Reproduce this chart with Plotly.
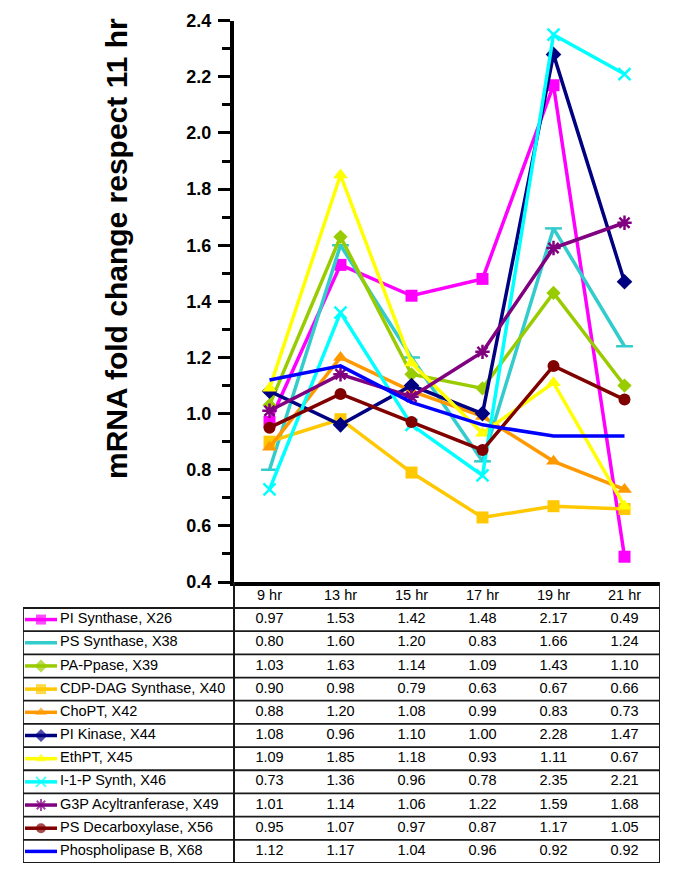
import plotly.graph_objects as go

# ---------------- data ----------------
categories = ["9 hr", "13 hr", "15 hr", "17 hr", "19 hr", "21 hr"]

series_names = [
    "PI Synthase, X26",
    "PS Synthase, X38",
    "PA-Ppase, X39",
    "CDP-DAG Synthase, X40",
    "ChoPT, X42",
    "PI Kinase, X44",
    "EthPT, X45",
    "I-1-P Synth, X46",
    "G3P Acyltranferase, X49",
    "PS Decarboxylase, X56",
    "Phospholipase B, X68",
]

pi_synthase = [0.97, 1.53, 1.42, 1.48, 2.17, 0.49]
ps_synthase = [0.80, 1.60, 1.20, 0.83, 1.66, 1.24]
pa_ppase = [1.03, 1.63, 1.14, 1.09, 1.43, 1.10]
cdp_dag_synthase = [0.90, 0.98, 0.79, 0.63, 0.67, 0.66]
chopt = [0.88, 1.20, 1.08, 0.99, 0.83, 0.73]
pi_kinase = [1.08, 0.96, 1.10, 1.00, 2.28, 1.47]
ethpt = [1.09, 1.85, 1.18, 0.93, 1.11, 0.67]
i1p_synth = [0.73, 1.36, 0.96, 0.78, 2.35, 2.21]
g3p_acyltransferase = [1.01, 1.14, 1.06, 1.22, 1.59, 1.68]
ps_decarboxylase = [0.95, 1.07, 0.97, 0.87, 1.17, 1.05]
phospholipase_b = [1.12, 1.17, 1.04, 0.96, 0.92, 0.92]

series_values = [pi_synthase, ps_synthase, pa_ppase, cdp_dag_synthase, chopt,
                 pi_kinase, ethpt, i1p_synth, g3p_acyltransferase,
                 ps_decarboxylase, phospholipase_b]

y_title = "mRNA fold change respect 11 hr"

# ---------------- styles ----------------
styles = [
    dict(color="#FF00FF", symbol="square", size=12),
    dict(color="#33CCCC", symbol="line-ew", size=12),
    dict(color="#99CC00", symbol="diamond", size=11),
    dict(color="#FFC800", symbol="square", size=12),
    dict(color="#FF9900", symbol="triangle-up", size=13),
    dict(color="#000080", symbol="diamond", size=12),
    dict(color="#FFFF00", symbol="triangle-up", size=13),
    dict(color="#00FFFF", symbol="x-thin", size=12),
    dict(color="#800080", symbol="asterisk", size=12),
    dict(color="#800000", symbol="circle", size=12),
    dict(color="#0000FF", symbol=None, size=0),
]

FONT = "Liberation Sans, Arial, Helvetica, sans-serif"
W, H = 685, 883

# layout positions in pixels
PLOT_L, PLOT_R, PLOT_T, PLOT_B = 234, 660, 20.7, 582
TABLE_L, TABLE_B = 23, 863
HEADER_H, ROW_H = 26, 23.2

n_cat = len(categories)
px_per_unit = (PLOT_R - PLOT_L) / n_cat
x2_left = -0.5 - (PLOT_L - TABLE_L) / px_per_unit
n_rows = len(series_names)
y2_top = -0.5 - HEADER_H / ROW_H


def px_to_x2(px):
    return x2_left + (px - TABLE_L) / px_per_unit


fig = go.Figure()

x_idx = list(range(n_cat))

# ---------------- chart traces ----------------
for name, vals, st in zip(series_names, series_values, styles):
    if st["symbol"] is None:
        mode = "lines"
        marker = None
    else:
        mode = "lines+markers"
        if st["symbol"] in ("line-ew", "x-thin", "asterisk"):
            marker = dict(symbol=st["symbol"], size=st["size"],
                          color=st["color"],
                          line=dict(color=st["color"], width=2.5))
        else:
            marker = dict(symbol=st["symbol"], size=st["size"],
                          color=st["color"], line=dict(width=0))
    fig.add_trace(go.Scatter(
        x=x_idx, y=vals, mode=mode, name=name,
        line=dict(color=st["color"], width=3.5),
        marker=marker, showlegend=False, xaxis="x", yaxis="y",
        cliponaxis=False,
    ))

# ---------------- data table ----------------
# legend keys
key_x = [px_to_x2(25), px_to_x2(41), px_to_x2(57)]
for i, (name, st) in enumerate(zip(series_names, styles)):
    show_marker = st["symbol"] is not None and st["symbol"] != "line-ew"
    if show_marker:
        if st["symbol"] in ("x-thin", "asterisk"):
            mk = dict(symbol=st["symbol"], size=[0, 10, 0], color=st["color"],
                      line=dict(color=st["color"], width=2))
        else:
            mk = dict(symbol=st["symbol"], size=[0, 10, 0], color=st["color"],
                      line=dict(width=0))
        mode = "lines+markers"
    else:
        mk = None
        mode = "lines"
    fig.add_trace(go.Scatter(
        x=key_x, y=[i, i, i], mode=mode,
        line=dict(color=st["color"], width=3.5), marker=mk,
        showlegend=False, xaxis="x2", yaxis="y2", hoverinfo="skip",
    ))

TFONT = dict(family=FONT, size=14.5, color="#000000")

# row labels
fig.add_trace(go.Scatter(
    x=[px_to_x2(60)] * n_rows, y=list(range(n_rows)), mode="text",
    text=series_names, textposition="middle right", textfont=TFONT,
    showlegend=False, xaxis="x2", yaxis="y2", hoverinfo="skip",
))

# header
fig.add_trace(go.Scatter(
    x=x_idx, y=[-1] * n_cat, mode="text", text=categories,
    textposition="middle center", textfont=TFONT,
    showlegend=False, xaxis="x2", yaxis="y2", hoverinfo="skip",
))

# values
cell_x, cell_y, cell_t = [], [], []
for i, vals in enumerate(series_values):
    for j, v in enumerate(vals):
        cell_x.append(j)
        cell_y.append(i)
        cell_t.append(f"{v:.2f}")
fig.add_trace(go.Scatter(
    x=cell_x, y=cell_y, mode="text", text=cell_t,
    textposition="middle center", textfont=TFONT,
    showlegend=False, xaxis="x2", yaxis="y2", hoverinfo="skip",
))

# table borders
line_col = "#1a1a1a"
shapes = [
    dict(type="rect", xref="x2", yref="y2", x0=x2_left, x1=n_cat - 0.5,
         y0=-0.5, y1=n_rows - 0.5, line=dict(color=line_col, width=1.8)),
    dict(type="line", xref="x2", yref="y2", x0=-0.5, x1=-0.5,
         y0=y2_top, y1=n_rows - 0.5, line=dict(color=line_col, width=2)),
    dict(type="line", xref="x2", yref="y2", x0=n_cat - 0.5, x1=n_cat - 0.5,
         y0=y2_top, y1=n_rows - 0.5, line=dict(color=line_col, width=1.8)),
]
for k in range(n_rows - 1):
    shapes.append(dict(type="line", xref="x2", yref="y2", x0=x2_left,
                       x1=n_cat - 0.5, y0=k + 0.5, y1=k + 0.5,
                       line=dict(color=line_col, width=1.8)))

fig.update_layout(
    width=W, height=H,
    margin=dict(l=0, r=0, t=0, b=0, autoexpand=False),
    paper_bgcolor="white", plot_bgcolor="rgba(0,0,0,0)",
    showlegend=False, hovermode=False,
    xaxis=dict(
        domain=[PLOT_L / W, PLOT_R / W], range=[-0.5, n_cat - 0.5],
        showticklabels=False, ticks="", showgrid=False, zeroline=False,
        showline=True, linecolor="black", linewidth=3.5, anchor="y",
        automargin=False,
    ),
    yaxis=dict(
        domain=[1 - PLOT_B / H, 1 - PLOT_T / H], range=[0.4, 2.4],
        tick0=0.4, dtick=0.2, tickformat=".1f",
        ticks="outside", ticklen=12, tickwidth=3, tickcolor="black",
        minor=dict(dtick=0.1, ticks="outside", ticklen=8, tickwidth=3,
                   tickcolor="black"),
        ticklabelstandoff=3,
        tickfont=dict(family=FONT, size=18, color="black", weight="bold"),
        showgrid=False, zeroline=False, automargin=False,
        showline=True, linecolor="black", linewidth=4, anchor="x",
    ),
    xaxis2=dict(
        domain=[TABLE_L / W, PLOT_R / W], range=[x2_left, n_cat - 0.5],
        visible=False, anchor="y2", automargin=False,
    ),
    yaxis2=dict(
        domain=[1 - TABLE_B / H, 1 - PLOT_B / H],
        range=[n_rows - 0.5, y2_top], visible=False, anchor="x2",
        automargin=False,
    ),
    shapes=shapes,
    annotations=[dict(
        text=y_title, xref="paper", yref="paper",
        x=116 / W, y=1 - 249 / H, xanchor="center", yanchor="middle",
        textangle=-90, showarrow=False,
        font=dict(family=FONT, size=30, color="black", weight="bold"),
    )],
)

fig.write_html("out.html",
               config={"displayModeBar": False, "staticPlot": True},
               post_script="document.body.style.margin='0';"
                           "document.body.style.padding='0';")
